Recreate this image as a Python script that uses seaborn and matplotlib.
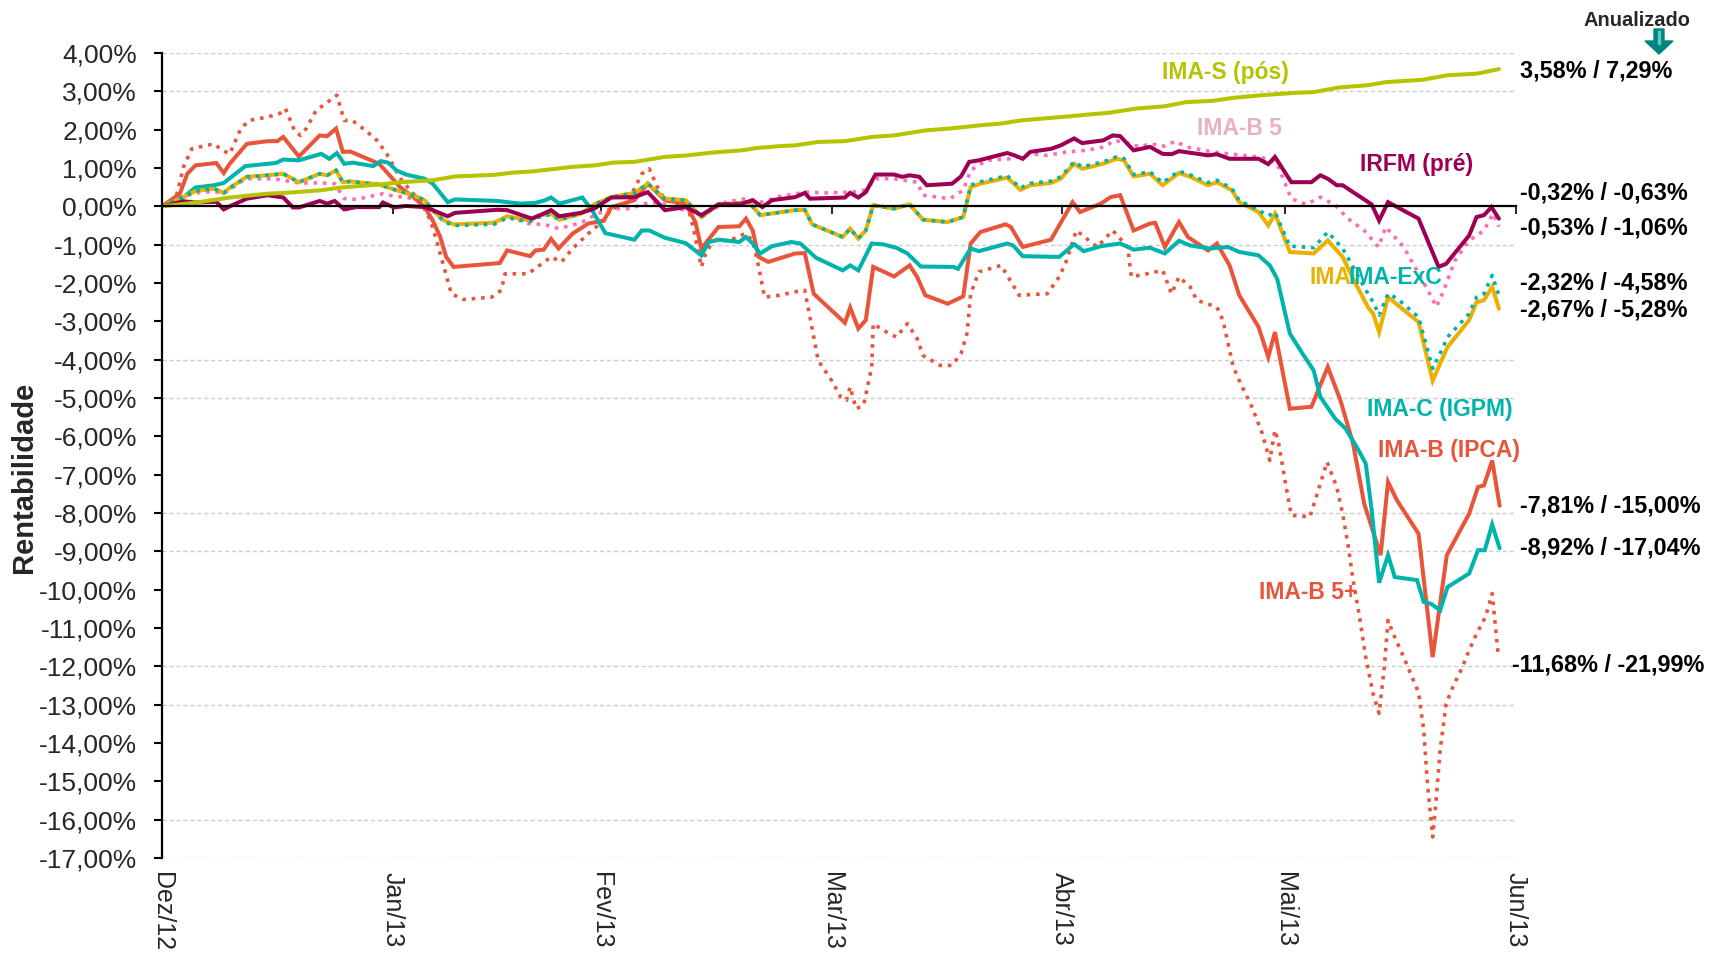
import matplotlib
matplotlib.use("Agg")
import matplotlib.pyplot as plt
import seaborn as sns
from matplotlib.patches import Polygon

# eixo x: dias corridos desde Dez/12
meses = ["Dez/12", "Jan/13", "Fev/13", "Mar/13", "Abr/13", "Mai/13", "Jun/13"]
pos_meses = [0, 31, 59, 90, 121, 151, 182]

dias_ima_s = [0, 2.4, 5.0, 9.1, 14.2, 17.3, 21.4, 24.0, 29.2, 32.2, 36.4, 39.4, 44.6, 47.2, 49.7,
              55.2, 58.3, 60.6, 63.5, 67.6, 70.7, 73.8, 77.9, 79.9, 83.0, 85.1, 88.2, 91.8, 95.4,
              98.4, 102.6, 105.9, 109.8, 112.8, 115.4, 119.0, 122.1, 124.2, 127.3, 130.9, 134.8,
              137.7, 141.1, 144.0, 147.9, 152.3, 154.8, 158.2, 162.1, 164.5, 169.4, 172.8, 176.7, 179.7]
ima_s = [0, 0.05, 0.11, 0.23, 0.33, 0.36, 0.42, 0.49, 0.57, 0.63, 0.68, 0.78, 0.82, 0.88, 0.91,
         1.03, 1.07, 1.14, 1.16, 1.29, 1.33, 1.40, 1.46, 1.52, 1.57, 1.59, 1.68, 1.70, 1.81,
         1.85, 1.98, 2.03, 2.11, 2.16, 2.24, 2.30, 2.35, 2.39, 2.44, 2.55, 2.61,
         2.72, 2.75, 2.83, 2.90, 2.96, 2.98, 3.10, 3.16, 3.24, 3.30, 3.42, 3.46, 3.58]

dias_irfm = [0, 2.9, 4.5, 7.3, 8.3, 9.1, 11.4, 14.2, 16.3, 17.6, 18.4, 21.2, 22.2, 23.2, 24.5, 26.1,
             29.2, 29.7, 31.2, 32.8, 35.3, 36.4, 38.4, 39.4, 45.1, 46.4, 49.7, 51.3, 52.3, 53.4,
             56.3, 58.1, 60.4, 63.5, 65.3, 67.6, 70.4, 72.5, 74.8, 77.6, 79.4, 80.7, 82.0, 85.1,
             86.4, 87.1, 91.8, 92.5, 93.6, 94.6, 95.9, 98.4, 99.5, 100.5, 101.8, 102.8, 106.2,
             107.4, 108.5, 109.8, 113.6, 114.6, 115.7, 116.7, 119.5, 120.8, 122.6, 123.7, 126.5,
             127.8, 128.8, 130.6, 132.8, 134.5, 135.7, 136.7, 140.6, 141.8, 143.5, 147.4, 148.7,
             149.6, 151.8, 154.5, 155.7, 156.7, 157.9, 158.7, 162.6, 163.6, 164.8, 168.9, 171.6,
             172.6, 175.7, 176.7, 177.7, 178.7, 179.7]
irfm = [0, 0.13, 0.10, 0.12, -0.08, 0.0, 0.20, 0.29, 0.23, -0.03, -0.03, 0.14, 0.07, 0.14, -0.08, -0.02,
        -0.02, 0.10, -0.03, 0.01, -0.02, -0.10, -0.26, -0.17, -0.09, -0.10, -0.32, -0.19, -0.10, -0.26,
        -0.17, -0.06, 0.23, 0.24, 0.37, -0.10, -0.02, -0.23, 0.05, 0.05, 0.16, -0.02, 0.16, 0.24,
        0.35, 0.20, 0.23, 0.35, 0.23, 0.37, 0.83, 0.83, 0.77, 0.81, 0.77, 0.55, 0.59,
        0.78, 1.16, 1.20, 1.39, 1.33, 1.24, 1.42, 1.50, 1.59, 1.77, 1.65, 1.72,
        1.85, 1.83, 1.46, 1.55, 1.37, 1.36, 1.44, 1.33, 1.36, 1.24, 1.24, 1.10,
        1.29, 0.63, 0.63, 0.81, 0.72, 0.55, 0.55, 0.05, -0.37, 0.11, -0.32, -1.58,
        -1.50, -0.76, -0.28, -0.23, -0.02, -0.32]

dias_ima = [0, 2.4, 4.5, 7.0, 8.3, 9.1, 11.4, 14.2, 16.3, 18.4, 21.2, 22.2, 23.4, 24.3, 25.3, 29.2,
            30.4, 32.0, 33.8, 35.3, 36.4, 37.9, 39.2, 44.6, 46.4, 49.5, 50.2, 51.3, 52.3, 53.4, 56.3,
            58.1, 60.4, 63.5, 65.3, 67.6, 70.4, 72.5, 74.8, 77.6, 78.9, 80.4, 85.1, 86.4, 87.4, 91.5,
            92.5, 93.6, 94.6, 95.6, 98.4, 100.5, 102.3, 105.6, 107.7, 108.7, 110.0, 113.6, 115.4,
            116.7, 119.5, 120.8, 122.6, 123.7, 126.5, 128.3, 129.3, 130.6, 132.8, 134.5, 136.7,
            138.2, 140.6, 141.8, 143.8, 144.8, 147.4, 148.7, 149.6, 151.6, 154.8, 156.7, 158.7,
            160.1, 162.1, 162.8, 163.6, 164.8, 166.0, 168.9, 170.8, 171.8, 172.8, 175.7, 176.7,
            177.7, 178.8, 179.7]
ima = [0, 0.20, 0.40, 0.46, 0.35, 0.48, 0.77, 0.81, 0.85, 0.63, 0.85, 0.81, 0.94, 0.63, 0.65, 0.57,
       0.49, 0.39, 0.29, 0.16, -0.10, -0.37, -0.47, -0.43, -0.26, -0.37, -0.28, -0.22, -0.19, -0.35, -0.19,
       0.05, 0.24, 0.35, 0.59, 0.20, 0.16, -0.28, 0.05, 0.09, 0.11, -0.23, -0.10, -0.09, -0.47, -0.80,
       -0.58, -0.84, -0.63, 0.03, -0.06, 0.05, -0.35, -0.41, -0.28, 0.50, 0.59, 0.75, 0.43,
       0.55, 0.61, 0.72, 1.11, 0.98, 1.11, 1.24, 1.20, 0.78, 0.85, 0.55, 0.87,
       0.77, 0.55, 0.63, 0.42, 0.11, -0.15, -0.50, -0.19, -1.19, -1.23, -0.89, -1.32,
       -1.89, -2.63, -2.80, -3.28, -2.37, -2.56, -3.02, -4.55, -4.10, -3.67, -2.97, -2.50,
       -2.45, -2.10, -2.67]
ima_exc = [0, 0.20, 0.40, 0.46, 0.35, 0.48, 0.77, 0.81, 0.85, 0.63, 0.85, 0.81, 0.94, 0.63, 0.65, 0.57,
           0.49, 0.39, 0.29, 0.16, -0.10, -0.40, -0.50, -0.47, -0.30, -0.40, -0.31, -0.25, -0.21, -0.35, -0.19,
           0.05, 0.24, 0.35, 0.59, 0.20, 0.16, -0.28, 0.05, 0.09, 0.11, -0.23, -0.10, -0.09, -0.47, -0.80,
           -0.58, -0.84, -0.63, 0.03, -0.06, 0.05, -0.35, -0.41, -0.28, 0.55, 0.64, 0.80, 0.48,
           0.60, 0.66, 0.77, 1.16, 1.03, 1.16, 1.29, 1.25, 0.83, 0.90, 0.62, 0.92,
           0.82, 0.62, 0.68, 0.47, 0.15, -0.10, -0.25, -0.15, -1.04, -1.08, -0.67, -1.10,
           -1.58, -2.28, -2.50, -2.84, -2.28, -2.40, -2.89, -4.23, -3.84, -3.41, -2.80, -2.37,
           -2.28, -1.80, -2.32]

dias_ima_b5 = [0, 2.4, 5.0, 7.0, 8.3, 11.2, 15.0, 16.3, 18.4, 21.4, 23.2, 24.5, 26.1, 29.7, 31.2, 32.8,
               35.3, 36.9, 39.2, 45.1, 46.6, 49.2, 51.3, 53.3, 56.3, 58.6, 60.4, 63.0, 64.5, 65.8, 67.6,
               71.7, 72.7, 75.8, 78.4, 80.7, 83.0, 86.6, 89.2, 92.8, 94.6, 95.9, 98.4, 101.5, 102.3,
               105.9, 107.7, 108.7, 110.8, 113.9, 117.0, 119.0, 121.6, 124.2, 126.7, 128.0, 129.8,
               131.4, 132.8, 134.8, 136.2, 137.7, 141.1, 143.8, 147.4, 148.9, 149.9, 150.8, 151.8,
               153.8, 155.7, 157.7, 159.4, 161.6, 163.5, 164.5, 166.9, 169.9, 171.3, 172.3, 173.8,
               175.7, 177.7, 178.9, 179.7]
ima_b5 = [0, 0.24, 0.36, 0.39, 0.33, 0.72, 0.72, 0.68, 0.61, 0.61, 0.59, 0.20, 0.18, 0.33, 0.26, 0.24,
          0.11, -0.19, -0.50, -0.41, -0.26, -0.45, -0.47, -0.58, -0.43, -0.19, -0.06, -0.06, 0.05, 0.11, 0.05,
          -0.19, -0.23, 0.11, 0.20, 0.11, 0.26, 0.37, 0.35, 0.37, 0.43, 0.72, 0.72, 0.63, 0.29,
          0.20, 0.42, 0.94, 1.20, 1.24, 1.36, 1.33, 1.42, 1.46, 1.55, 1.72, 1.65,
          1.55, 1.63, 1.57, 1.70, 1.55, 1.42, 1.36, 1.29, 1.22, 1.11, 0.68, 0.20,
          0.05, 0.24, 0.03, -0.32, -0.63, -1.06, -0.54, -1.06, -2.10, -2.62, -2.19, -1.41,
          -0.89, -0.63, -0.19, -0.53]

dias_ima_c = [0, 2.4, 4.5, 7.0, 8.3, 11.2, 15.3, 16.3, 18.4, 21.4, 22.5, 23.5, 24.5, 25.6, 28.4, 29.4,
              30.4, 31.5, 32.8, 35.3, 36.4, 38.4, 39.4, 45.1, 48.2, 50.2, 51.5, 52.3, 53.4, 56.5, 57.8,
              59.6, 63.5, 64.5, 65.5, 67.6, 70.4, 72.5, 73.5, 74.8, 77.6, 78.5, 79.4, 80.4, 82.0, 84.6,
              85.8, 87.9, 91.5, 92.5, 93.6, 95.4, 96.9, 98.7, 100.2, 102.0, 106.4, 107.0, 108.7, 109.8,
              113.6, 114.4, 115.7, 120.6, 122.6, 123.9, 126.2, 128.8, 130.6, 132.8, 134.8, 136.7,
              138.2, 140.8, 143.3, 144.8, 147.4, 148.9, 149.9, 151.6, 153.3, 154.8, 155.7, 157.7,
              159.1, 160.6, 161.8, 162.6, 163.6, 164.8, 165.7, 168.7, 169.6, 170.6, 171.8, 172.8,
              175.7, 176.9, 177.8, 178.8, 179.8]
ima_c = [0, 0.16, 0.49, 0.55, 0.61, 1.05, 1.13, 1.22, 1.20, 1.37, 1.24, 1.39, 1.11, 1.14, 1.05, 1.18,
         1.14, 0.94, 0.83, 0.72, 0.59, 0.11, 0.18, 0.14, 0.07, 0.09, 0.16, 0.23, 0.07, 0.23, -0.10,
         -0.70, -0.87, -0.63, -0.63, -0.82, -0.96, -1.28, -0.93, -0.87, -0.93, -0.80, -0.97, -1.23, -1.04, -0.93,
         -0.97, -1.34, -1.67, -1.54, -1.67, -0.97, -0.99, -1.08, -1.23, -1.57, -1.58, -1.63, -1.10, -1.17,
         -0.97, -1.02, -1.30, -1.32, -0.99, -1.17, -1.04, -0.97, -1.13, -1.08, -1.23, -0.90,
         -1.02, -1.10, -1.06, -1.19, -1.28, -1.54, -1.89, -3.32, -3.84, -4.28, -4.97, -5.54,
         -5.80, -6.28, -6.71, -7.93, -9.82, -9.10, -9.67, -9.75, -10.32, -10.37, -10.54, -9.93,
         -9.58, -8.97, -8.97, -8.30, -8.92]

dias_ima_b = [0, 2.4, 3.4, 4.5, 7.3, 8.3, 9.1, 11.4, 14.2, 15.5, 16.3, 18.4, 21.2, 22.2, 23.4, 24.3,
              25.3, 29.2, 30.4, 32.0, 33.8, 35.3, 36.4, 37.4, 38.2, 39.2, 45.4, 46.4, 49.5, 50.2, 51.3,
              52.3, 53.3, 55.2, 57.3, 59.4, 60.4, 63.5, 65.3, 67.6, 70.4, 71.7, 72.5, 74.8, 77.6, 78.5,
              79.4, 80.2, 81.5, 85.1, 86.4, 87.6, 91.8, 92.5, 93.6, 94.6, 95.6, 98.4, 100.5, 101.5,
              102.6, 105.6, 107.7, 108.7, 110.0, 113.4, 114.1, 115.7, 119.5, 122.4, 123.4, 126.2,
              127.5, 128.8, 130.6, 132.8, 133.5, 134.8, 136.7, 137.9, 140.6, 141.8, 143.5, 144.8,
              147.4, 148.7, 149.6, 151.6, 154.5, 156.7, 158.4, 160.1, 161.6, 163.8, 164.8, 166.0,
              168.9, 170.8, 172.7, 175.7, 176.9, 177.7, 178.8, 179.8]
ima_b = [0, 0.33, 0.85, 1.07, 1.13, 0.87, 1.11, 1.63, 1.70, 1.70, 1.81, 1.30, 1.85, 1.83, 2.03, 1.42,
         1.43, 1.11, 0.85, 0.50, 0.24, -0.02, -0.37, -0.80, -1.32, -1.58, -1.48, -1.15, -1.30, -1.15, -1.13,
         -0.85, -1.10, -0.71, -0.45, -0.37, -0.02, 0.16, 0.59, 0.16, 0.07, -0.41, -1.10, -0.54, -0.52, -0.32,
         -0.63, -1.32, -1.45, -1.23, -1.22, -2.28, -3.04, -2.64, -3.19, -2.97, -1.58, -1.83, -1.54, -1.84,
         -2.32, -2.54, -2.35, -0.97, -0.67, -0.47, -0.54, -1.06, -0.87, 0.11, -0.15, 0.07,
         0.24, 0.29, -0.63, -0.45, -0.43, -1.06, -0.41, -0.80, -1.15, -0.97, -1.54, -2.32,
         -3.15, -3.93, -3.28, -5.28, -5.23, -4.19, -5.06, -6.19, -7.76, -9.10, -7.19, -7.67,
         -8.54, -11.76, -9.10, -8.02, -7.32, -7.28, -6.63, -7.81]

dias_ima_b5p = [0, 1.9, 2.9, 4.0, 5.5, 7.0, 8.1, 9.1, 10.6, 11.7, 14.2, 15.8, 16.6, 17.8, 18.6, 19.4,
                20.7, 22.0, 23.5, 24.5, 25.6, 27.6, 28.9, 30.2, 32.2, 33.8, 34.8, 36.1, 36.9, 37.9, 38.9,
                40.5, 44.3, 45.6, 46.1, 49.2, 52.3, 53.7, 55.2, 57.3, 59.4, 60.4, 62.4, 64.5, 65.5, 66.6,
                67.6, 70.7, 71.4, 72.5, 73.2, 74.3, 76.3, 78.4, 79.4, 80.2, 81.0, 83.0, 85.1, 86.4, 87.1,
                88.2, 90.0, 91.2, 92.0, 92.5, 93.3, 94.3, 95.4, 95.6, 96.9, 98.7, 100.2, 101.5, 102.3,
                104.6, 106.2, 107.4, 108.2, 108.7, 109.8, 112.8, 115.2, 119.0, 120.6, 121.6, 122.9,
                125.7, 127.8, 129.8, 130.3, 132.4, 134.5, 135.7, 136.7, 138.2, 139.1, 141.8, 142.6,
                144.0, 145.0, 146.5, 147.9, 148.9, 149.6, 150.1, 151.1, 151.8, 154.3, 155.0, 156.6,
                157.9, 158.7, 159.4, 160.1, 160.9, 161.8, 162.8, 163.6, 164.3, 164.8, 165.5, 166.9,
                168.9, 169.6, 170.1, 170.8, 171.3, 171.8, 172.6, 173.5, 174.8, 175.7, 176.7, 177.9,
                178.8, 179.6]
ima_b5p = [0, 0.24, 1.03, 1.50, 1.57, 1.63, 1.46, 1.37, 2.03, 2.24, 2.33, 2.42, 2.55, 1.98, 1.85, 2.03,
           2.50, 2.68, 2.90, 2.24, 2.24, 1.94, 1.72, 1.37, 0.68, 0.33, 0.11, -0.37, -0.89, -1.58, -2.28,
           -2.43, -2.37, -2.19, -1.76, -1.76, -1.32, -1.45, -1.10, -0.71, -0.37, -0.06, 0.03, 0.85, 0.98, 0.50,
           0.16, -0.02, -0.54, -1.58, -1.15, -0.89, -0.89, -0.71, -0.89, -1.58, -2.37, -2.32, -2.23, -2.19, -2.89,
           -4.02, -4.54, -4.97, -5.06, -4.71, -5.28, -5.19, -4.19, -3.06, -3.23, -3.41, -3.06, -3.45, -3.89,
           -4.15, -4.15, -3.84, -3.32, -2.28, -1.71, -1.54, -2.32, -2.28, -1.84, -1.41, -0.63,
           -1.06, -0.63, -1.06, -1.84, -1.76, -1.67, -2.28, -1.84, -2.10, -2.45, -2.63, -2.97,
           -4.19, -4.63, -5.23, -5.93, -6.63, -5.84, -6.19, -7.32, -8.06, -8.10, -7.67, -6.67,
           -7.32, -8.02, -8.80, -9.75, -10.63, -11.76, -12.72, -13.23, -12.02, -10.80, -11.15, -11.76,
           -12.68, -13.67, -15.06, -16.45, -15.41, -14.19, -12.98, -12.54, -12.02, -11.58, -11.15, -10.71,
           -10.10, -11.68]

rotulos_finais = ["3,58% / 7,29%", "-0,32% / -0,63%", "-0,53% / -1,06%", "-2,32% / -4,58%",
                  "-2,67% / -5,28%", "-7,81% / -15,00%", "-8,92% / -17,04%", "-11,68% / -21,99%"]
y_rotulos_finais = [3.52, 0.34, -0.57, -2.01, -2.71, -7.83, -8.92, -11.97]
x_rotulos_finais = [182.6, 182.6, 182.6, 182.6, 182.6, 182.6, 182.6, 181.5]

laranja = "#e8553a"
teal = "#00b3ab"
series = [
    # nome, x, y, cor, estilo
    ("IMA-B 5+", dias_ima_b5p, ima_b5p, laranja, (0, (1, 1.6))),
    ("IMA-B 5", dias_ima_b5, ima_b5, "#ff6eb4", (0, (1, 1.6))),
    ("IMA-B (IPCA)", dias_ima_b, ima_b, laranja, "-"),
    ("IMA-C (IGPM)", dias_ima_c, ima_c, teal, "-"),
    ("IMA", dias_ima, ima, "#ebb000", "-"),
    ("IMA-ExC", dias_ima, ima_exc, teal, (0, (1, 1.6))),
    ("IRFM (pré)", dias_irfm, irfm, "#9c0052", "-"),
    ("IMA-S (pós)", dias_ima_s, ima_s, "#b5c400", "-"),
]

# rotulos das series dentro do grafico
nomes = [("IMA-S (pós)", 134.4, 3.50, "#b5c400"),
         ("IMA-B 5", 139.1, 2.03, "#e8b0c6"),
         ("IRFM (pré)", 161.0, 1.10, "#9c0052"),
         ("IMA", 154.2, -1.85, "#ebb000"),
         ("IMA-ExC", 159.5, -1.85, teal),
         ("IMA-C (IGPM)", 162.0, -5.30, teal),
         ("IMA-B (IPCA)", 163.4, -6.37, laranja),
         ("IMA-B 5+", 147.4, -10.07, laranja)]

linhas_grade = [4, 3, -1, -4, -5, -8, -9, -12, -13, -16, -17]

sns.set_theme(style="white")
plt.rcParams["font.family"] = ["Liberation Sans", "DejaVu Sans"]

W, H = 1719, 958
fig = plt.figure(figsize=(W / 100, H / 100), dpi=100)
ax = fig.add_axes([162 / W, 1 - 858 / H, (1516 - 162) / W, (858 - 53) / H])

ax.hlines(linhas_grade, 0, 182, colors="#cdcdcd", linestyles=(0, (3, 2)), lw=1, zorder=0)

for nome, x, y, cor, estilo in series:
    sns.lineplot(x=x, y=y, ax=ax, color=cor, linestyle=estilo, lw=2.9 if estilo == "-" else 2.6,
                 errorbar=None, solid_joinstyle="miter")

ax.set_xlim(0, 182)
ax.set_ylim(-17, 4)
ax.set_yticks(range(-17, 5))
ax.set_yticklabels([f"{v:.2f}%".replace(".", ",") for v in range(-17, 5)])
ax.tick_params(axis="y", direction="out", length=6, width=1.5, color="black",
               labelsize=19, pad=12, left=True)

for lado in ["top", "right"]:
    ax.spines[lado].set_visible(False)
ax.spines["left"].set_color("black")
ax.spines["left"].set_linewidth(1.6)
ax.spines["bottom"].set_position(("data", 0))
ax.spines["bottom"].set_color("black")
ax.spines["bottom"].set_linewidth(1.6)
ax.set_xticks(pos_meses)
ax.tick_params(axis="x", direction="out", length=6, width=1.2, color="black",
               labelbottom=False, bottom=True)

sec = ax.secondary_xaxis(0)
sec.set_xticks(pos_meses, labels=meses)
sec.tick_params(axis="x", length=0, pad=10, labelsize=18, labelrotation=-90)
sec.spines["bottom"].set_visible(False)

ax.set_xlabel("")
ax.set_ylabel("")
fig.text(24 / W, 1 - 477 / H, "Rentabilidade", rotation=90, ha="center", va="center",
         fontsize=21, fontweight="bold")

for texto, x, y, cor in nomes:
    ax.text(x, y, texto, color=cor, fontsize=16.5, fontweight="bold", ha="left", va="center")

for texto, x, y in zip(rotulos_finais, x_rotulos_finais, y_rotulos_finais):
    ax.text(x, y, texto, color="black", fontsize=16.8, fontweight="bold", ha="left", va="center",
            clip_on=False)

fig.text(1637 / W, 1 - 21 / H, "Anualizado", ha="center", va="center", fontsize=14.4,
         fontweight="bold")

# seta indicando a coluna anualizada
def px(pts):
    return [(a / W, 1 - b / H) for a, b in pts]

seta = Polygon(px([(1654, 29), (1664, 29), (1664, 41), (1673, 41), (1659, 54), (1645, 41), (1654, 41)]),
               closed=True, transform=fig.transFigure, color="#00857d")
faixa = Polygon(px([(1658, 31), (1660, 31), (1660, 44), (1658, 44)]), closed=True,
                transform=fig.transFigure, color="#5fc8c0")
fig.add_artist(seta)
fig.add_artist(faixa)

fig.savefig("out.png", dpi=100)
